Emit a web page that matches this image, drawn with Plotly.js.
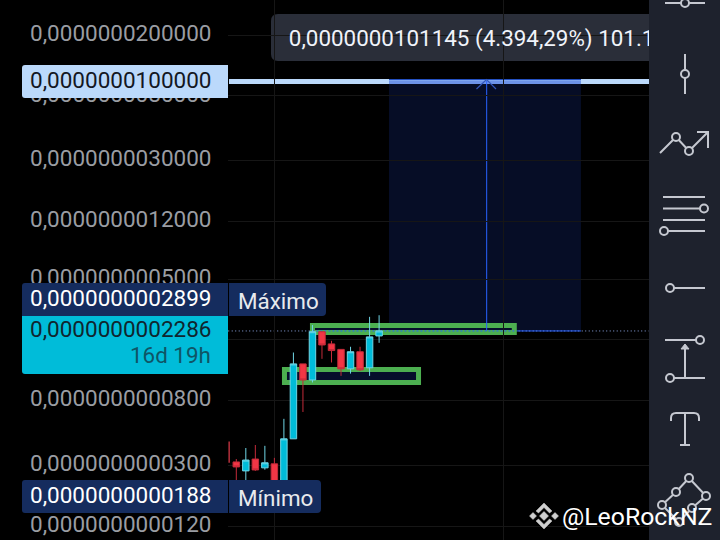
<!DOCTYPE html>
<html>
<head>
<meta charset="utf-8">
<script src="https://cdn.plot.ly/plotly-3.0.1.min.js"></script>
<style>html,body{margin:0;padding:0;background:#000;overflow:hidden}#chart{width:720px;height:540px}</style>
</head>
<body>
<div id="chart"></div>
<script>
// Candles (log price, values x 1e-10)
const candleIndex = [0,1,2,3,4,5,6,7,8,9,10,11,12,13,14,15];
const opens  = [0.316,0.276,0.330,0.289,0.307,0.220,0.448,1.39,1.09,2.26,1.88,1.73,1.29,1.67,1.31,2.12];
const highs  = [0.330,0.390,0.408,0.403,0.336,0.606,1.65,1.39,2.50,2.26,1.97,1.73,1.80,1.80,2.83,2.899];
const lows   = [0.228,0.235,0.276,0.281,0.188,0.207,0.448,0.672,1.05,1.50,1.42,1.16,1.20,1.25,1.16,1.91];
const closes = [0.293,0.325,0.280,0.312,0.220,0.448,1.39,1.09,2.26,1.85,1.70,1.29,1.67,1.27,2.09,2.286];
const earlyWickX = [-0.75,-0.75];
const earlyWickY = [0.43,0.312];

const tickValues = [2e-8,8e-9,3e-9,1.2e-9,5e-10,2e-10,8e-11,3e-11,1.2e-11];
const tickLabels = ["0,0000000200000","0,0000000080000","0,0000000030000","0,0000000012000","0,0000000005000","0,0000000002000","0,0000000000800","0,0000000000300","0,0000000000120"];
const gridColumns = [3.97,28.1];

const targetPrice = 1e-8;
const lastPrice = 2.286e-10;
const bandX = [16.04,36.2];
const arrowX = 26.3;
const upperZoneX = [8.0,29.2];
const upperZoneY = [2.483e-10,2.234e-10];
const lowerZoneX = [5.06,19.14];
const lowerZoneY = [1.277e-10,1.05e-10];

const tooltipText = "0,0000000101145 (4.394,29%) 101.145.000";
const tooltipX = [5.52];
const tooltipY = [1.85e-8];

const scale = v => v.map(d => d * 1e-10);
const W = 720, H = 540;
const fx = x => x / W, fy = y => 1 - y / H;
const P = (x, y) => fx(x) + " " + fy(y);

function rrect(x0, y0, x1, y1, tl, tr, br, bl) {
  return "M" + P(x0 + tl, y0) + " L" + P(x1 - tr, y0) + " Q" + P(x1, y0) + " " + P(x1, y0 + tr) +
    " L" + P(x1, y1 - br) + " Q" + P(x1, y1) + " " + P(x1 - br, y1) +
    " L" + P(x0 + bl, y1) + " Q" + P(x0, y1) + " " + P(x0, y1 - bl) +
    " L" + P(x0, y0 + tl) + " Q" + P(x0, y0) + " " + P(x0 + tl, y0) + " Z";
}
const pbase = {xref: "paper", yref: "paper"};
const box = (x0, y0, x1, y1, color, r, layer) => Object.assign({type: "path", path: rrect(x0, y0, x1, y1, r[0], r[1], r[2], r[3]), fillcolor: color, line: {width: 0}, layer: layer || "above"}, pbase);
const poly = (pts, color, width, fill) => Object.assign({type: "path", path: "M" + pts.map(p => P(p[0], p[1])).join(" L") + (fill ? " Z" : ""), fillcolor: fill ? color : "rgba(0,0,0,0)", line: {color: color, width: width}, layer: "above"}, pbase);

const toolbar = "#1e222d", ic = "#c5c8d0";
const circ = (x, y, r) => Object.assign({type: "circle", x0: fx(x - r), x1: fx(x + r), y0: fy(y - r), y1: fy(y + r), fillcolor: toolbar, line: {color: ic, width: 2}, layer: "above"}, pbase);
const ln = pts => poly(pts, ic, 2);

const dataShape = o => Object.assign({xref: "x", yref: "y", layer: "below"}, o);

const shapes = [
  // tooltip background
  box(271, 14, 660, 61, "#2a2e39", [7, 7, 7, 7], "below"),
  // target line
  Object.assign({type: "line", x0: fx(229), x1: fx(649), y0: fy(81.5), y1: fy(81.5), line: {color: "#bbd9fb", width: 5}, layer: "below"}, pbase),
  // projection band
  dataShape({type: "rect", x0: bandX[0], x1: bandX[1], y0: lastPrice, y1: targetPrice, fillcolor: "rgba(30,70,200,0.19)", line: {width: 0}}),
  Object.assign({type: "line", x0: fx(389), x1: fx(581), y0: fy(81.5), y1: fy(81.5), line: {color: "#7fa6ef", width: 5}, layer: "below"}, pbase),
  Object.assign({type: "line", x0: fx(389), x1: fx(581), y0: fy(79.5), y1: fy(79.5), line: {color: "#2450c0", width: 1}, layer: "below"}, pbase),
  // last price dotted + band base
  dataShape({type: "line", x0: -0.85, x1: 43.3, y0: lastPrice, y1: lastPrice, line: {color: "#8ea8e6", width: 1, dash: "1px,2.5px"}}),
  dataShape({type: "line", x0: bandX[0], x1: bandX[1], y0: lastPrice, y1: lastPrice, line: {color: "#2962ff", width: 1}}),
  // green zones
  dataShape({type: "rect", x0: upperZoneX[0], x1: upperZoneX[1], y0: upperZoneY[0], y1: upperZoneY[1], fillcolor: "#060f2b", line: {color: "#4caf50", width: 5}}),
  dataShape({type: "line", x0: upperZoneX[0], x1: upperZoneX[1], y0: lastPrice, y1: lastPrice, line: {color: "#2962ff", width: 1, dash: "2px,2px"}}),
  dataShape({type: "rect", x0: lowerZoneX[0], x1: lowerZoneX[1], y0: lowerZoneY[0], y1: lowerZoneY[1], fillcolor: "#060f2b", line: {color: "#4caf50", width: 5}}),
  // vertical measure with arrow
  dataShape({type: "line", x0: arrowX, x1: arrowX, y0: lastPrice, y1: targetPrice, line: {color: "#2962ff", width: 1}}),
  Object.assign(poly([[476.5, 89], [486.5, 79.5], [496, 89]], "#3559b5", 1.2), {layer: "below"}),
  // price axis labels
  box(22, 65, 228, 98, "#bbd9fb", [3, 0, 0, 3]),
  box(22, 283, 228, 316, "#152c5e", [3, 0, 0, 0]),
  box(229, 283, 326, 316, "#152c5e", [0, 4, 4, 0]),
  box(22, 316, 228, 374, "#00bcd9", [0, 0, 0, 3]),
  box(22, 480, 228, 513, "#152c5e", [3, 0, 0, 3]),
  box(229, 480, 321, 513, "#152c5e", [0, 4, 4, 0]),
  // toolbar
  box(649, 0, 720, 540, toolbar, [0, 0, 0, 0]),
  ln([[665, 3], [705, 3]]), circ(685, 3, 4),
  ln([[685, 54], [685, 94]]), circ(685, 74, 4),
  ln([[660, 153], [676, 137], [689, 151], [708, 132]]), ln([[697, 132], [708, 132], [708, 148]]), circ(676, 137, 4), circ(689, 151, 4),
  ln([[663, 197], [705, 197]]), ln([[663, 208.5], [704, 208.5]]), circ(704, 208.5, 4), ln([[663, 220], [705, 220]]), ln([[664, 231], [705, 231]]), circ(664, 231, 4),
  ln([[670, 288], [705, 288]]), circ(670, 288, 4),
  ln([[665, 340], [700, 340]]), circ(700, 340, 4), ln([[685, 378], [685, 348]]), poly([[681, 349], [689, 349], [685, 344]], ic, 1, true),
  ln([[670, 378], [705, 378]]), circ(670, 378, 4),
  Object.assign({type: "path", path: "M" + P(671, 421) + " L" + P(671, 418) + " Q" + P(671, 413) + " " + P(676, 413) + " L" + P(694, 413) + " Q" + P(699, 413) + " " + P(699, 418) + " L" + P(699, 421), fillcolor: "rgba(0,0,0,0)", line: {color: ic, width: 2}, layer: "above"}, pbase),
  ln([[685, 413], [685, 445]]), ln([[680, 445], [690, 445]]),
  ln([[689, 478], [676, 492], [662, 505], [679, 522], [692, 508], [706, 496], [689, 478]]),
  circ(689, 478, 4), circ(676, 492, 4), circ(662, 505, 4), circ(706, 496, 4), circ(692, 508, 4), circ(679, 522, 4),
  // watermark icon
  poly([[533, 512.5], [536.5, 516], [533, 519.5], [529.5, 516]], "#cfcfcf", 0.5, true),
  poly([[555, 512.5], [558.5, 516], [555, 519.5], [551.5, 516]], "#cfcfcf", 0.5, true),
  poly([[544, 511.5], [548.5, 516], [544, 520.5], [539.5, 516]], "#cfcfcf", 0.5, true),
  poly([[544, 503], [552, 511], [549.5, 513], [544, 507.5], [538.5, 513], [536, 511]], "#cfcfcf", 0.5, true),
  poly([[544, 529], [552, 521], [549.5, 519], [544, 524.5], [538.5, 519], [536, 521]], "#cfcfcf", 0.5, true)
];

const fontName = "Roboto, 'Noto Sans', sans-serif";
const ann = (x, y, text, color, anchor, size) => ({
  xref: "paper", yref: "paper", x: fx(x), y: fy(y), text: text, showarrow: false,
  xanchor: anchor, yanchor: "middle", borderpad: 0, font: {family: fontName, size: size || 22.5, color: color}
});
const annotations = [
  ann(212, 79.5, "0,0000000100000", "#131722", "right"),
  ann(212, 297.5, "0,0000000002899", "#ffffff", "right"),
  ann(236.5, 301, "Máximo", "#e8eaed", "left", 22.4),
  ann(212, 329, "0,0000000002286", "#10252e", "right"),
  ann(212, 355, "16d 19h", "#0f5566", "right", 22.4),
  ann(212, 494.5, "0,0000000000188", "#ffffff", "right"),
  ann(236.5, 498, "Mínimo", "#e8eaed", "left", 22.4),
  ann(561, 516, "@LeoRockNZ", "#ffffff", "left", 24.8)
];

const traces = [
  {type: "scatter", mode: "lines", x: earlyWickX, y: scale(earlyWickY), line: {color: "#b5303c", width: 1.5}, hoverinfo: "skip"},
  {type: "candlestick", x: candleIndex, open: scale(opens), high: scale(highs), low: scale(lows), close: scale(closes),
    whiskerwidth: 0,
    increasing: {line: {color: "#6fd6e6", width: 1}, fillcolor: "#00bcd9"},
    decreasing: {line: {color: "#c42b3a", width: 1}, fillcolor: "#f23645"},
    hoverinfo: "skip"},
  {type: "scatter", mode: "text", x: tooltipX, y: tooltipY, text: [tooltipText], textposition: "middle right", cliponaxis: true,
    textfont: {family: fontName, size: 22.4, color: "#f0f3fa"}, hoverinfo: "skip"}
];

const layout = {
  width: W, height: H, showlegend: false,
  paper_bgcolor: "#000", plot_bgcolor: "#000",
  margin: {l: 0, r: 0, t: 0, b: 0, pad: 0},
  font: {family: fontName},
  boxgap: 0.32, boxgroupgap: 0,
  xaxis: {domain: [228 / W, 649 / W], range: [-0.872, 43.35], type: "linear", rangeslider: {visible: false},
    tickmode: "array", tickvals: gridColumns, ticktext: ["", ""], showticklabels: false, ticks: "",
    showgrid: true, gridcolor: "#161616", gridwidth: 1, zeroline: false, showline: false, automargin: false},
  yaxis: {domain: [0, 1], type: "log", range: [-11.0126, -7.4693], side: "left",
    tickmode: "array", tickvals: tickValues, ticktext: tickLabels, ticks: "outside", ticklen: 11, tickcolor: "rgba(0,0,0,0)",
    ticklabelshift: -2,
    tickfont: {family: fontName, size: 22.5, color: "#9a9da3"},
    showgrid: true, gridcolor: "#161616", gridwidth: 1, zeroline: false, showline: false, automargin: false},
  shapes: shapes, annotations: annotations
};
Plotly.newPlot("chart", traces, layout, {staticPlot: true, displayModeBar: false});
</script>
</body>
</html>
